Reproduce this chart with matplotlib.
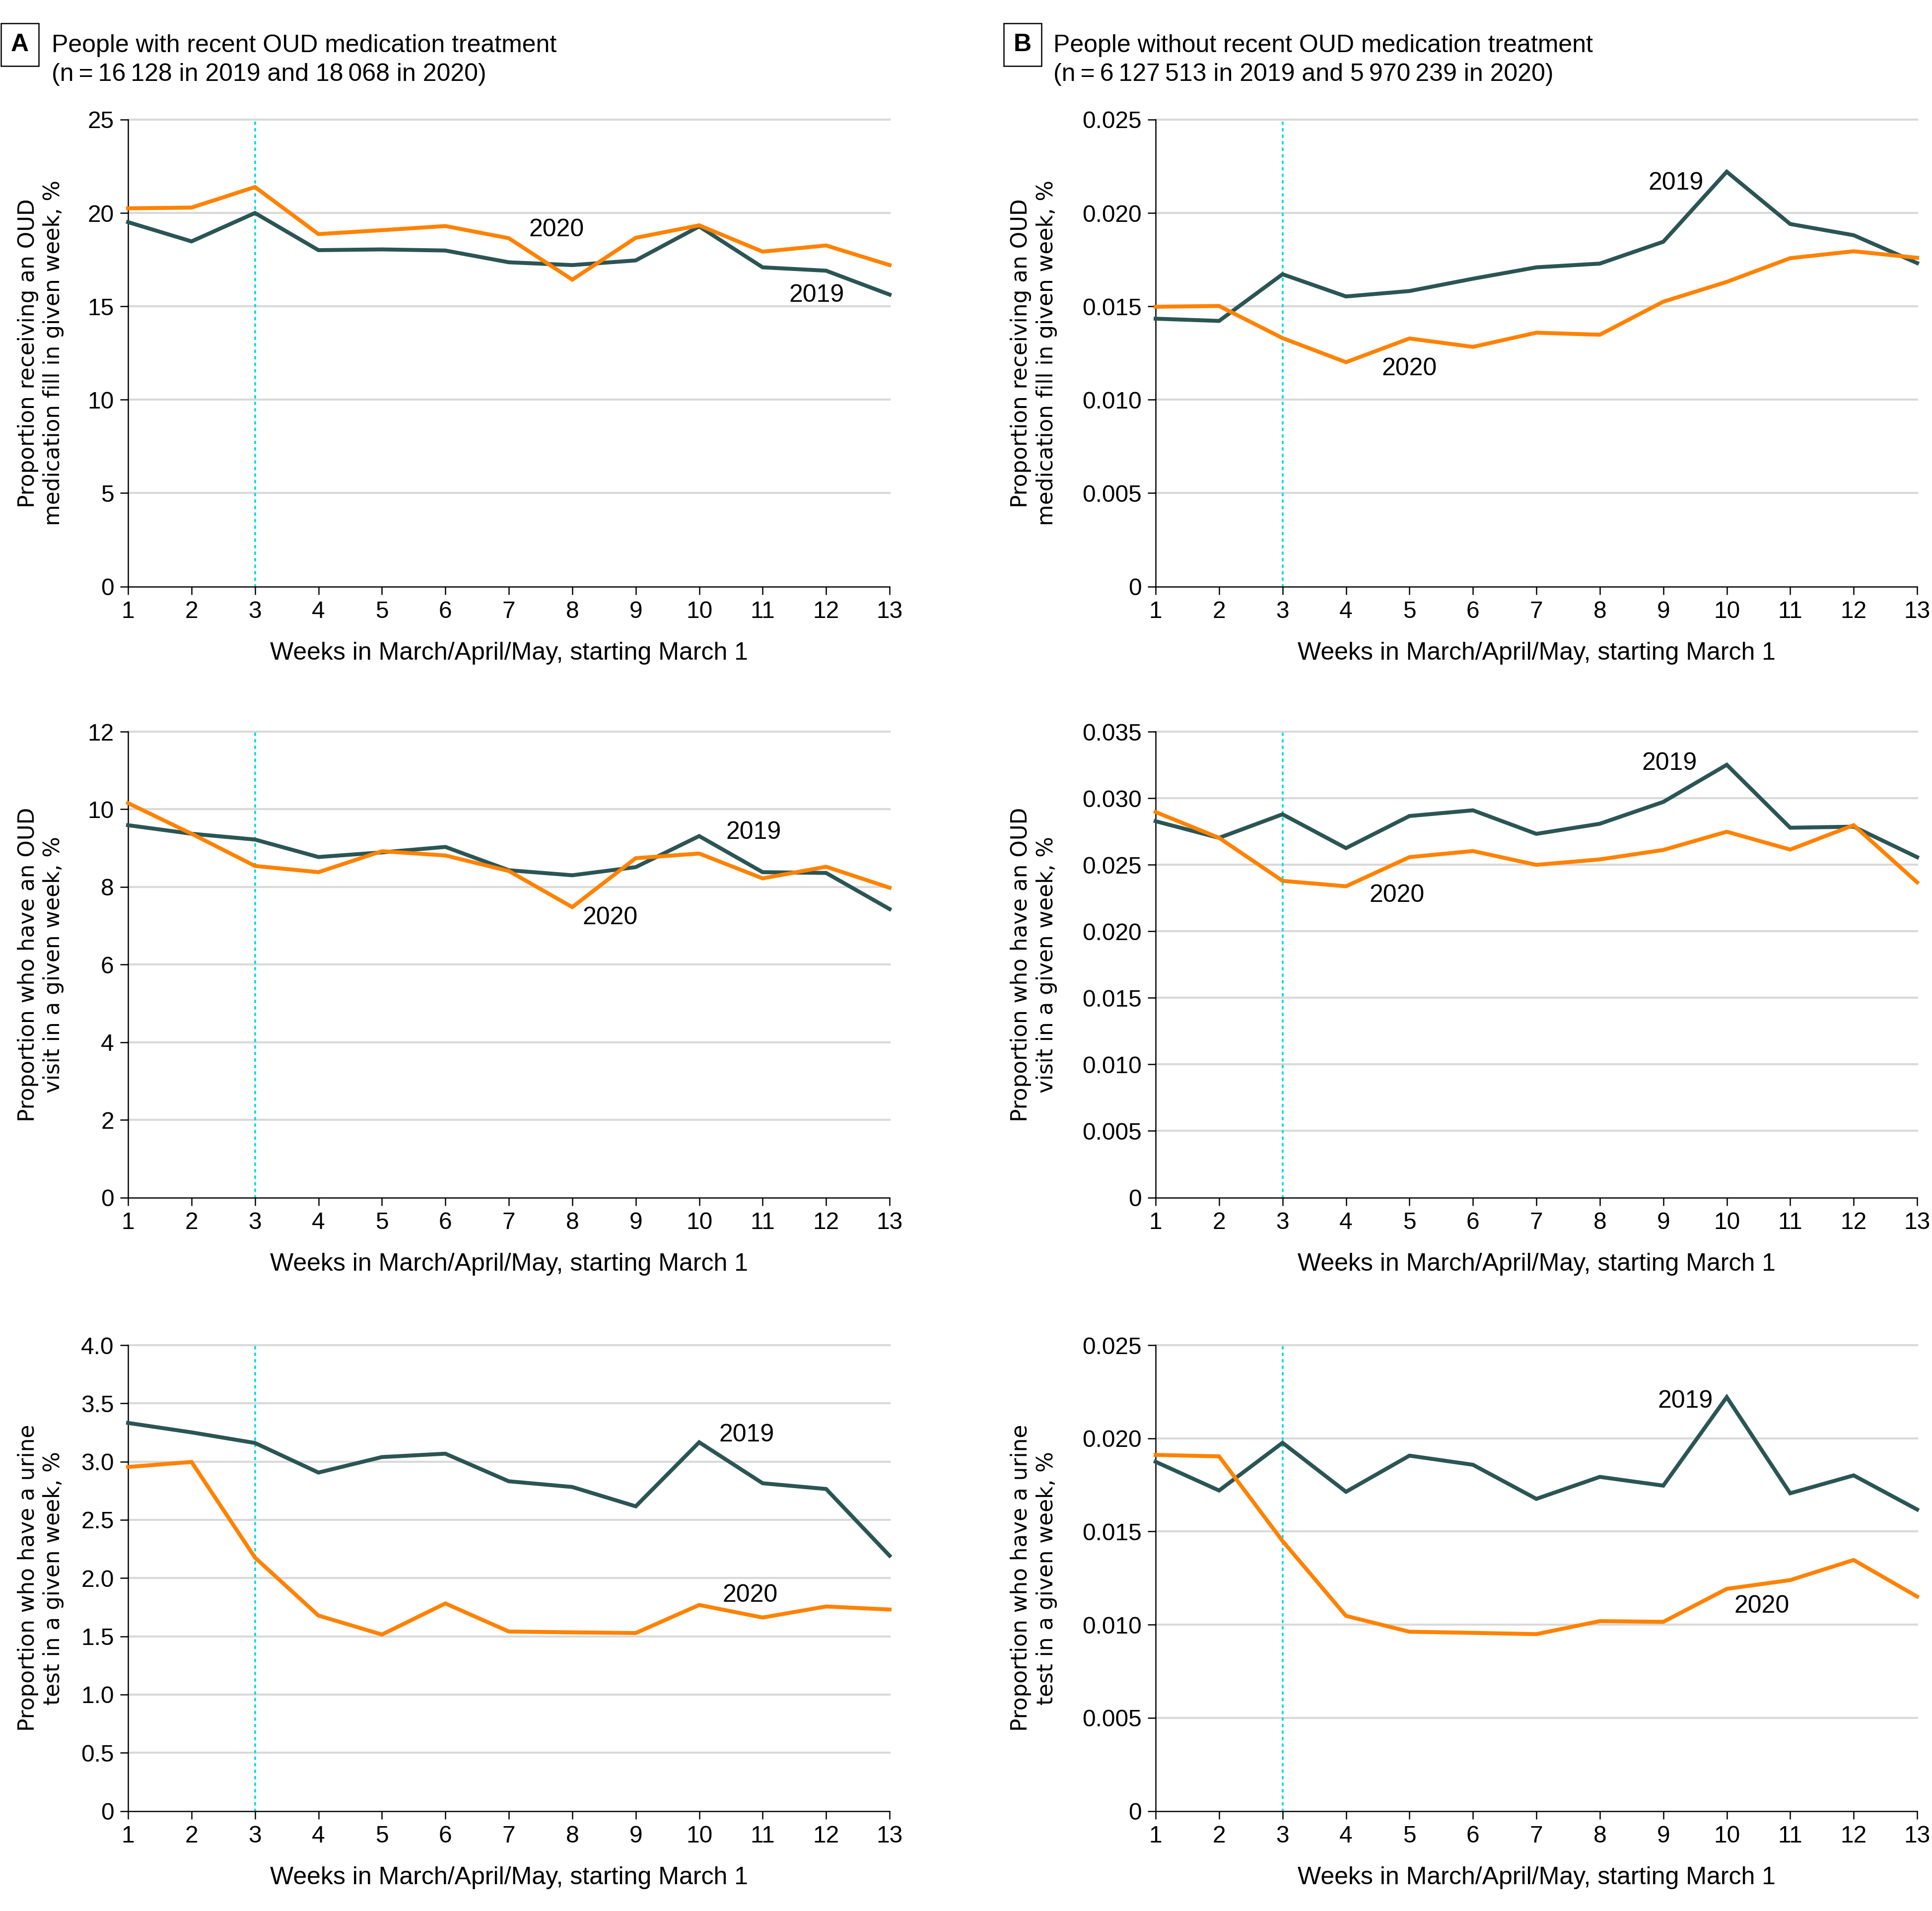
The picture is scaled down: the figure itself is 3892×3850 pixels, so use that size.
import matplotlib
matplotlib.use('Agg')
import matplotlib.pyplot as plt
from matplotlib.ticker import FuncFormatter

weeks = list(range(1, 14))

# row 1: medication fill
fill_with_2019 = [19.51, 18.48, 20.0, 18.01, 18.05, 17.99, 17.36, 17.21, 17.46, 19.28, 17.09, 16.91, 15.63]
fill_with_2020 = [20.25, 20.29, 21.39, 18.87, 19.08, 19.30, 18.65, 16.43, 18.67, 19.34, 17.93, 18.26, 17.21]
fill_without_2019 = [0.01434, 0.01422, 0.01672, 0.01553, 0.01582, 0.01648, 0.01709, 0.01729, 0.01846, 0.02221, 0.01941, 0.01881, 0.01732]
fill_without_2020 = [0.01498, 0.01502, 0.01330, 0.01201, 0.01328, 0.01283, 0.01359, 0.01348, 0.01525, 0.01631, 0.01758, 0.01795, 0.01760]

# row 2: OUD visit
visit_with_2019 = [9.59, 9.37, 9.22, 8.77, 8.89, 9.03, 8.43, 8.30, 8.51, 9.31, 8.38, 8.36, 7.43]
visit_with_2020 = [10.16, 9.37, 8.54, 8.38, 8.92, 8.81, 8.41, 7.48, 8.74, 8.86, 8.22, 8.52, 7.98]
visit_without_2019 = [0.02827, 0.02702, 0.02879, 0.02625, 0.02866, 0.02909, 0.02732, 0.02808, 0.02972, 0.03251, 0.02778, 0.02786, 0.02557]
visit_without_2020 = [0.02896, 0.02702, 0.02379, 0.02338, 0.02557, 0.02603, 0.02499, 0.02540, 0.02611, 0.02748, 0.02614, 0.02797, 0.02368]

# row 3: urine test
urine_with_2019 = [3.332, 3.251, 3.160, 2.906, 3.039, 3.068, 2.831, 2.782, 2.616, 3.166, 2.814, 2.765, 2.192]
urine_with_2020 = [2.954, 2.997, 2.176, 1.678, 1.515, 1.782, 1.541, 1.534, 1.528, 1.769, 1.661, 1.756, 1.730]
urine_without_2019 = [0.01874, 0.01720, 0.01976, 0.01713, 0.01907, 0.01858, 0.01675, 0.01793, 0.01746, 0.02221, 0.01705, 0.01801, 0.01618]
urine_without_2020 = [0.01911, 0.01903, 0.01449, 0.01047, 0.00962, 0.00956, 0.00949, 0.01019, 0.01015, 0.01192, 0.01239, 0.01347, 0.01151]

ylabels = ['Proportion receiving an OUD\nmedication fill in given week, %',
           'Proportion who have an OUD\nvisit in a given week, %',
           'Proportion who have a urine\ntest in a given week, %']
xlabel = 'Weeks in March/April/May, starting March 1'

c2019 = '#2b5554'
c2020 = '#ff8200'
cgrid = '#d9d9d9'
ccyan = '#00dde6'

txt_font = ['Liberation Sans', 'DejaVu Sans']
lab_font = ['DejaVu Sans']
fs_tick = 11.5
fs = 12

W, H = 3892, 3850
fig = plt.figure(figsize=(W / 300, H / 300), dpi=300)

# axes boxes in pixels (left, right) / (top, bottom)
col_x = [(258, 1792), (2328, 3862)]
row_y = [(241, 1181.5), (1474, 2412.5), (2710, 3648.5)]

# (series19, series20, ymax, ystep, decimals, label positions 2019/2020)
panels = [
    [(fill_with_2019, fill_with_2020, 25, 5, 0, (11.85, 15.6), (7.75, 19.1)),
     (fill_without_2019, fill_without_2020, 0.025, 0.005, 3, (9.2, 0.0216), (5.0, 0.01165))],
    [(visit_with_2019, visit_with_2020, 12, 2, 0, (10.86, 9.4), (8.6, 7.2)),
     (visit_without_2019, visit_without_2020, 0.035, 0.005, 3, (9.1, 0.0326), (4.8, 0.0227))],
    [(urine_with_2019, urine_with_2020, 4.0, 0.5, 1, (10.75, 3.23), (10.8, 1.85)),
     (urine_without_2019, urine_without_2020, 0.025, 0.005, 3, (9.35, 0.0220), (10.55, 0.0110))],
]

ylab_x = [-0.1147, -0.160]

for r in range(3):
    for c in range(2):
        s19, s20, ymax, ystep, dec, pos19, pos20 = panels[r][c]
        x0, x1 = col_x[c]
        y0, y1 = row_y[r]
        ax = fig.add_axes([x0 / W, 1 - y1 / H, (x1 - x0) / W, (y1 - y0) / H])

        n = int(round(ymax / ystep))
        yt = [i * ystep for i in range(n + 1)]
        for v in yt[1:]:
            ax.axhline(v, color=cgrid, lw=1.0, zorder=0)
        ax.axvline(3, color=ccyan, lw=0.9, dashes=(1, 2.5), dash_capstyle='round', zorder=1)

        ax.plot(weeks, s19, color=c2019, lw=1.9, zorder=3, solid_joinstyle='miter')
        ax.plot(weeks, s20, color=c2020, lw=1.9, zorder=4, solid_joinstyle='miter')

        ax.text(pos19[0], pos19[1], '2019', ha='center', va='center', fontsize=fs, family=txt_font)
        ax.text(pos20[0], pos20[1], '2020', ha='center', va='center', fontsize=fs, family=txt_font)

        ax.set_xlim(1, 13)
        ax.set_ylim(0, ymax)
        ax.set_xticks(weeks)
        ax.set_yticks(yt)
        ax.yaxis.set_major_formatter(FuncFormatter(
            lambda v, p, d=dec: '0' if abs(v) < 1e-12 else f'{v:.{d}f}'))
        for sp in ['top', 'right']:
            ax.spines[sp].set_visible(False)
        for sp in ['left', 'bottom']:
            ax.spines[sp].set_linewidth(0.6)
        ax.tick_params(axis='both', length=3.8, width=0.6, pad=3.0, labelsize=fs_tick)
        for lab in ax.get_xticklabels() + ax.get_yticklabels():
            lab.set_family(txt_font)
        ax.set_xlabel(xlabel, fontsize=fs, family=txt_font, va='center')
        ax.xaxis.set_label_coords(0.5, -0.143)
        ax.set_ylabel(ylabels[r], fontsize=10.5, family=lab_font, va='center', linespacing=1.25)
        ax.yaxis.set_label_coords(ylab_x[c], 0.5)
        for ln in ax.lines:
            ln.set_clip_on(False)

# panel headers
headers = [('A', 40, 104, 'People with recent OUD medication treatment',
            '(n\u2009=\u200916\u2009128 in 2019 and 18\u2009068 in 2020)'),
           ('B', 2060, 2122, 'People without recent OUD medication treatment',
            '(n\u2009=\u20096\u2009127\u2009513 in 2019 and 5\u2009970\u2009239 in 2020)')]
for letter, bx, tx, l1, l2 in headers:
    fig.text(bx / W, 1 - 90 / H, letter, ha='center', va='center', fontsize=fs, fontweight='bold',
             family=txt_font,
             bbox=dict(boxstyle='square,pad=0.4', facecolor='white', edgecolor='black', lw=0.6))
    fig.text(tx / W, 1 - 92 / H, l1, ha='left', va='center', fontsize=fs, family=txt_font)
    fig.text(tx / W, 1 - 150 / H, l2, ha='left', va='center', fontsize=fs, family=txt_font)

fig.savefig('out.png', dpi=300, facecolor='white')
